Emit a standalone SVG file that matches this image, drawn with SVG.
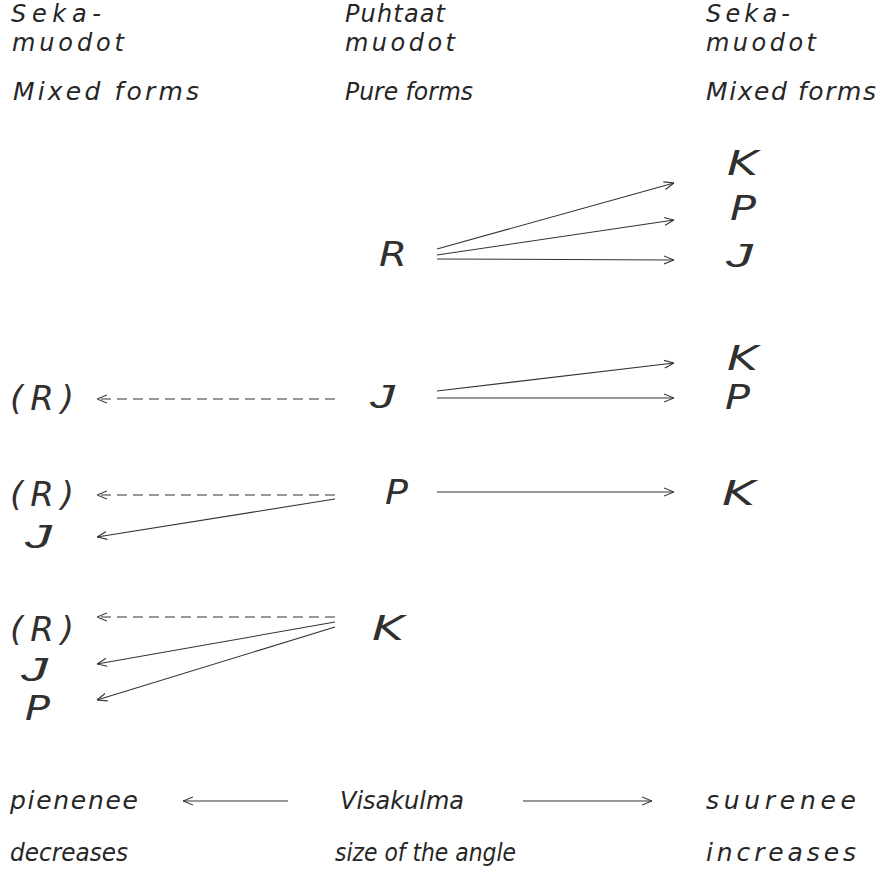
<svg xmlns="http://www.w3.org/2000/svg" width="880" height="875" viewBox="0 0 880 875">
<style>
text{font-family:"DejaVu Sans","Liberation Sans",sans-serif;font-style:italic;font-weight:200;fill:#262626}
.h{font-size:25px}
.t{font-size:24px}
.big{font-size:34px;fill:#303030}
.j{font-family:"Liberation Sans",sans-serif;font-weight:normal}
.c line{stroke:#333;stroke-width:1.1;fill:none}
.d{stroke-dasharray:10 6}
</style>
<defs>
<marker id="ah" viewBox="0 0 10 10" refX="10" refY="5" markerWidth="10" markerHeight="10" markerUnits="userSpaceOnUse" orient="auto">
<path d="M0,1 L10,5 L0,9" fill="none" stroke="#333" stroke-width="1.1" stroke-dasharray="none"/>
</marker>
</defs>
<rect width="880" height="875" fill="#fff"/>
<g id="header-left">
<text class="t" x="11" y="22" textLength="90" lengthAdjust="spacing">Seka-</text>
<text class="t" x="12" y="51" textLength="112" lengthAdjust="spacing">muodot</text>
<text class="h" x="13" y="100" textLength="186" lengthAdjust="spacing">Mixed forms</text>
</g>
<g id="header-mid">
<text class="t" x="345" y="22" textLength="100" lengthAdjust="spacing">Puhtaat</text>
<text class="t" x="345" y="51" textLength="110" lengthAdjust="spacing">muodot</text>
<text class="h" x="345" y="100" textLength="128" lengthAdjust="spacingAndGlyphs">Pure forms</text>
</g>
<g id="header-right">
<text class="t" x="706" y="22" textLength="84" lengthAdjust="spacing">Seka-</text>
<text class="t" x="706" y="51" textLength="110" lengthAdjust="spacing">muodot</text>
<text class="h" x="706" y="100" textLength="170" lengthAdjust="spacing">Mixed forms</text>
</g>
<g id="node-R"><text class="big" x="379" y="266" textLength="28" lengthAdjust="spacingAndGlyphs">R</text></g>
<g id="node-J"><text class="big j" x="370" y="408" textLength="25" lengthAdjust="spacingAndGlyphs">J</text></g>
<g id="node-P"><text class="big" x="385" y="504" textLength="23" lengthAdjust="spacingAndGlyphs">P</text></g>
<g id="node-K"><text class="big" x="372" y="640" textLength="32" lengthAdjust="spacingAndGlyphs">K</text></g>
<g id="right-R-K"><text class="big" x="727" y="175" textLength="31" lengthAdjust="spacingAndGlyphs">K</text></g>
<g id="right-R-P"><text class="big" x="730" y="220" textLength="26" lengthAdjust="spacingAndGlyphs">P</text></g>
<g id="right-R-J"><text class="big j" x="726" y="267" textLength="27" lengthAdjust="spacingAndGlyphs">J</text></g>
<g id="right-J-K"><text class="big" x="727" y="370" textLength="31" lengthAdjust="spacingAndGlyphs">K</text></g>
<g id="right-J-P"><text class="big" x="725" y="409" textLength="25" lengthAdjust="spacingAndGlyphs">P</text></g>
<g id="right-P-K"><text class="big" x="722" y="505" textLength="33" lengthAdjust="spacingAndGlyphs">K</text></g>
<g id="left-J-R"><text class="big" x="10" y="410" textLength="64" lengthAdjust="spacing">(R)</text></g>
<g id="left-P-R"><text class="big" x="10" y="506" textLength="64" lengthAdjust="spacing">(R)</text></g>
<g id="left-P-J"><text class="big j" x="25" y="548" textLength="27" lengthAdjust="spacingAndGlyphs">J</text></g>
<g id="left-K-R"><text class="big" x="10" y="641" textLength="64" lengthAdjust="spacing">(R)</text></g>
<g id="left-K-J"><text class="big j" x="21" y="681" textLength="27" lengthAdjust="spacingAndGlyphs">J</text></g>
<g id="left-K-P"><text class="big" x="25" y="720" textLength="25" lengthAdjust="spacingAndGlyphs">P</text></g>
<g id="bottom">
<text class="h" x="10" y="809" textLength="128" lengthAdjust="spacing">pienenee</text>
<text class="h" x="340" y="809" textLength="124" lengthAdjust="spacingAndGlyphs">Visakulma</text>
<text class="h" x="706" y="809" textLength="150" lengthAdjust="spacing">suurenee</text>
<text class="h" x="10" y="861" textLength="118" lengthAdjust="spacingAndGlyphs">decreases</text>
<text class="h" x="335" y="861" textLength="181" lengthAdjust="spacingAndGlyphs">size of the angle</text>
<text class="h" x="706" y="861" textLength="150" lengthAdjust="spacing">increases</text>
</g>
<g id="connectors" class="c">
<line x1="437" y1="249" x2="674" y2="183" marker-end="url(#ah)"/>
<line x1="437" y1="255" x2="674" y2="220" marker-end="url(#ah)"/>
<line x1="437" y1="259" x2="674" y2="260" marker-end="url(#ah)"/>
<line x1="437" y1="391" x2="674" y2="363" marker-end="url(#ah)"/>
<line x1="437" y1="398" x2="674" y2="398" marker-end="url(#ah)"/>
<line x1="437" y1="492" x2="674" y2="492" marker-end="url(#ah)"/>
<line class="d" x1="335" y1="399" x2="97" y2="399" marker-end="url(#ah)"/>
<line class="d" x1="335" y1="495" x2="97" y2="495" marker-end="url(#ah)"/>
<line x1="335" y1="499" x2="97" y2="537" marker-end="url(#ah)"/>
<line class="d" x1="335" y1="617" x2="97" y2="617" marker-end="url(#ah)"/>
<line x1="335" y1="622" x2="97" y2="664" marker-end="url(#ah)"/>
<line x1="335" y1="627" x2="97" y2="700" marker-end="url(#ah)"/>
<line x1="288" y1="801" x2="183" y2="801" marker-end="url(#ah)"/>
<line x1="523" y1="801" x2="652" y2="801" marker-end="url(#ah)"/>
</g>
</svg>
